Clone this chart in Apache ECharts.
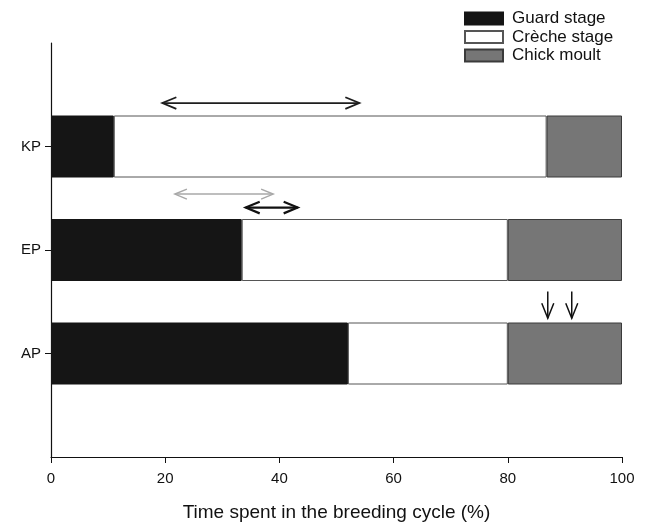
<!DOCTYPE html>
<html>
<head>
<meta charset="utf-8">
<script src="https://cdn.jsdelivr.net/npm/echarts@6/dist/echarts.min.js"></script>
<style>html,body{margin:0;padding:0;background:#fff}#c{width:646px;height:527px}</style>
</head>
<body>
<div id="c"></div>
<script>
// ---- data ----
var colonies = ['AP', 'EP', 'KP'];            // bottom to top
var guardStage = [52.0, 33.4, 11.0];           // % of breeding cycle
var crecheStage = [28.0, 46.6, 75.8];
var chickMoult = [20.0, 20.0, 13.2];
var xTicks = [0, 20, 40, 60, 80, 100];
// horizontal double arrows: start %, end %, level (category units)
var arrowStart = [19.5, 21.7, 34.1];
var arrowEnd = [54.0, 38.9, 43.2];
var arrowLevel = [3.42, 2.54, 2.41];
// downward arrows above AP: x %, from level, to level
var downArrowX = [87.0, 91.2];
var downArrowTop = [1.60, 1.60];
var downArrowBottom = [1.34, 1.34];

var FONT = '"Liberation Sans", Arial, Helvetica, sans-serif';
var cats = [''].concat(colonies).concat(['']);
function pad(a) { return [null].concat(a).concat([null]); }

var arrowStyles = [
  { stroke: '#1e1e1e', lineWidth: 1.8, L: 14, h: 5.8 },
  { stroke: '#a8a8a8', lineWidth: 1.5, L: 12, h: 5 },
  { stroke: '#111111', lineWidth: 2.2, L: 14, h: 5.8 }
];

var hData = arrowStart.map(function (s, i) { return [s, arrowEnd[i], arrowLevel[i], i]; });
var vData = downArrowX.map(function (x, i) { return [x, downArrowTop[i], downArrowBottom[i]]; });

var chart = echarts.init(document.getElementById('c'));
chart.setOption({
  animation: false,
  backgroundColor: '#ffffff',
  textStyle: { fontFamily: FONT },
  grid: { left: 51, right: 24, top: 43, bottom: 67 },
  legend: {
    orient: 'vertical',
    left: 459, top: 5,
    itemWidth: 38, itemHeight: 12, itemGap: 1.5,
    icon: 'rect',
    textStyle: { fontFamily: FONT, fontSize: 17, color: '#111', padding: [0, 0, 0, 4] },
    data: ['Guard stage', 'Crèche stage', 'Chick moult']
  },
  xAxis: {
    type: 'value', min: xTicks[0], max: xTicks[xTicks.length - 1], interval: 20,
    name: 'Time spent in the breeding cycle (%)',
    nameLocation: 'middle', nameGap: 46,
    nameTextStyle: { fontFamily: FONT, fontSize: 19, color: '#111' },
    axisLine: { lineStyle: { color: '#111', width: 1.2 } },
    axisTick: { show: true, length: 6, lineStyle: { color: '#111' } },
    axisLabel: { fontFamily: FONT, fontSize: 15, color: '#111', margin: 14 },
    splitLine: { show: false }
  },
  yAxis: [{
    type: 'category', data: cats, boundaryGap: false,
    axisLine: { lineStyle: { color: '#111', width: 1.2 } },
    axisTick: { show: true, length: 6, lineStyle: { color: '#111' },
      interval: function (i, v) { return v !== ''; } },
    axisLabel: { fontFamily: FONT, fontSize: 15, color: '#111', margin: 10,
      interval: function (i, v) { return v !== ''; } },
    splitLine: { show: false }
  }, {
    type: 'value', min: 0, max: 4, show: false
  }],
  series: [
    { name: 'Guard stage', type: 'bar', stack: 's', barWidth: 62, data: pad(guardStage),
      itemStyle: { color: '#151515', borderColor: '#151515', borderWidth: 1 } },
    { name: 'Crèche stage', type: 'bar', stack: 's', barWidth: 62, data: pad(crecheStage),
      itemStyle: { color: '#ffffff', borderColor: '#555', borderWidth: 1 } },
    { name: 'Chick moult', type: 'bar', stack: 's', barWidth: 62, data: pad(chickMoult),
      itemStyle: { color: '#767676', borderColor: '#3a3a3a', borderWidth: 1 } },
    { type: 'custom', xAxisIndex: 0, yAxisIndex: 1, silent: true, data: hData,
      renderItem: function (params, api) {
        var a = api.coord([api.value(0), api.value(2)]);
        var b = api.coord([api.value(1), api.value(2)]);
        var st = arrowStyles[api.value(3)];
        var style = { stroke: st.stroke, lineWidth: st.lineWidth, fill: null };
        return { type: 'group', children: [
          { type: 'line', shape: { x1: a[0], y1: a[1], x2: b[0], y2: b[1] }, style: style },
          { type: 'polyline', shape: { points: [[a[0] + st.L, a[1] - st.h], [a[0], a[1]], [a[0] + st.L, a[1] + st.h]] }, style: style },
          { type: 'polyline', shape: { points: [[b[0] - st.L, b[1] - st.h], [b[0], b[1]], [b[0] - st.L, b[1] + st.h]] }, style: style }
        ] };
      } },
    { type: 'custom', xAxisIndex: 0, yAxisIndex: 1, silent: true, data: vData,
      renderItem: function (params, api) {
        var a = api.coord([api.value(0), api.value(1)]);
        var b = api.coord([api.value(0), api.value(2)]);
        var style = { stroke: '#111', lineWidth: 1.5, fill: null };
        return { type: 'group', children: [
          { type: 'line', shape: { x1: a[0], y1: a[1], x2: b[0], y2: b[1] }, style: style },
          { type: 'polyline', shape: { points: [[b[0] - 6, b[1] - 15], [b[0], b[1]], [b[0] + 6, b[1] - 15]] }, style: style }
        ] };
      } }
  ]
});
</script>
</body>
</html>
